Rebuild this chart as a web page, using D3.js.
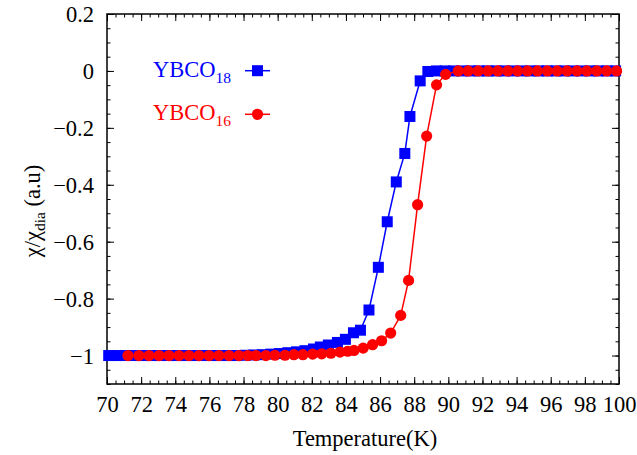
<!DOCTYPE html>
<html>
<head>
<meta charset="utf-8">
<script src="https://cdn.jsdelivr.net/npm/d3@7"></script>
<style>
  body { margin: 0; background: #fff; }
  svg { display: block; }
  text { font-family: "Liberation Serif", "Times New Roman", serif; }
</style>
</head>
<body>
<div id="chart"></div>
<script>
// YBCO18 (blue squares)
var tempBlue = [70.1, 70.6, 71.1, 71.6, 72.1, 72.6, 73.1, 73.6, 74.1, 74.6, 75.1, 75.6, 76.1, 76.6,
  77.1, 77.6, 78.1, 78.6, 79.1, 79.6, 80.1, 80.6, 81.1, 81.6, 82.1, 82.5, 82.97, 83.5, 83.97,
  84.44, 84.85, 85.35, 85.9, 86.42, 86.95, 87.45, 87.75, 88.35, 88.8, 89.3, 89.8, 90.3, 90.8,
  91.3, 91.8, 92.3, 92.8, 93.3, 93.8, 94.3, 94.8, 95.3, 95.8, 96.3, 96.8, 97.3, 97.8, 98.3,
  98.8, 99.3, 99.8];
var chiBlue = [-1.0, -1.0, -1.0, -1.0, -1.0, -1.0, -1.0, -1.0, -1.0, -1.0, -1.0, -1.0, -1.0, -1.0,
  -1.0, -1.0, -0.999, -0.998, -0.997, -0.995, -0.993, -0.99, -0.987, -0.983, -0.977, -0.97, -0.963,
  -0.954, -0.943, -0.92, -0.911, -0.84, -0.69, -0.53, -0.39, -0.29, -0.16, -0.035, -0.002, 0, 0, 0,
  0, 0, 0, 0, 0, 0, 0, 0, 0, 0, 0, 0, 0, 0, 0, 0, 0, 0, 0];

// YBCO16 (red circles)
var tempRed = [71.23, 71.87, 72.46, 73.05, 73.63, 74.22, 74.8, 75.39, 75.98, 76.56, 77.15, 77.73,
  78.25, 78.73, 79.31, 79.84, 80.43, 80.95, 81.48, 82.05, 82.58, 83.12, 83.65, 84.1, 84.47, 85.01, 85.56,
  86.09, 86.62, 87.21, 87.67, 88.2, 88.73, 89.31, 89.84, 90.58, 91.16, 91.74, 92.32, 92.9,
  93.48, 94.06, 94.64, 95.22, 95.8, 96.38, 96.96, 97.54, 98.12, 98.7, 99.28, 99.86];
var chiRed = [-1.0, -1.0, -1.0, -1.0, -1.0, -1.0, -1.0, -1.0, -1.0, -1.0, -1.0, -1.0,
  -1.0, -1.0, -1.0, -0.999, -0.999, -0.997, -0.997, -0.995, -0.994, -0.992, -0.988, -0.985, -0.982, -0.974, -0.962,
  -0.948, -0.921, -0.859, -0.736, -0.47, -0.229, -0.049, -0.012, 0, 0, 0, 0, 0,
  0, 0, 0, 0, 0, 0, 0, 0, 0, 0, 0, 0];

var xTicks = [70, 72, 74, 76, 78, 80, 82, 84, 86, 88, 90, 92, 94, 96, 98, 100];
var yTicks = [0.2, 0, -0.2, -0.4, -0.6, -0.8, -1];

var width = 637, height = 455;
var margin = {top: 14, right: 18, bottom: 71, left: 107};
var fontSize = "22.5px";

var svg = d3.select("#chart").append("svg")
  .attr("width", width)
  .attr("height", height);

var x = d3.scaleLinear().domain([70, 100]).range([margin.left, width - margin.right]);
var y = d3.scaleLinear().domain([-1.1, 0.2]).range([height - margin.bottom, margin.top]);

function fmt(d) {
  var s = d3.format("")(+d.toFixed(1));
  return s.replace("-", "\u2212");
}

// minor ticks
var xMinor = d3.range(70, 100.01, 0.5);
var yMinor = d3.range(-1.1, 0.201, 0.05);

svg.append("g")
  .attr("transform", "translate(0," + y(-1.1) + ")")
  .call(d3.axisBottom(x).tickValues(xMinor).tickSize(-3.5).tickFormat(""));
svg.append("g")
  .attr("transform", "translate(0," + y(0.2) + ")")
  .call(d3.axisTop(x).tickValues(xMinor).tickSize(-3.5).tickFormat(""));
svg.append("g")
  .attr("transform", "translate(" + x(70) + ",0)")
  .call(d3.axisLeft(y).tickValues(yMinor).tickSize(-3.5).tickFormat(""));
svg.append("g")
  .attr("transform", "translate(" + x(100) + ",0)")
  .call(d3.axisRight(y).tickValues(yMinor).tickSize(-3.5).tickFormat(""));

// major ticks
svg.append("g")
  .attr("transform", "translate(0," + y(-1.1) + ")")
  .call(d3.axisBottom(x).tickValues(xTicks).tickSize(-7).tickPadding(12).tickFormat(fmt));
svg.append("g")
  .attr("transform", "translate(0," + y(0.2) + ")")
  .call(d3.axisTop(x).tickValues(xTicks).tickSize(-7).tickFormat(""));
var yAxis = svg.append("g")
  .attr("transform", "translate(" + x(70) + ",0)")
  .call(d3.axisLeft(y).tickValues(yTicks).tickSize(-7).tickPadding(13).tickFormat(fmt));
svg.append("g")
  .attr("transform", "translate(" + x(100) + ",0)")
  .call(d3.axisRight(y).tickValues(yTicks).tickSize(-7).tickFormat(""));

svg.selectAll(".domain").remove();
svg.selectAll(".tick line").attr("stroke", "#000").attr("stroke-width", 1);
svg.selectAll(".tick text")
  .attr("fill", "#000")
  .style("font-size", fontSize)
  .style("font-family", "'Liberation Serif', serif");
yAxis.selectAll(".tick text").attr("dy", "0.35em");

// frame
svg.append("rect")
  .attr("x", x(70)).attr("y", y(0.2))
  .attr("width", x(100) - x(70)).attr("height", y(-1.1) - y(0.2))
  .attr("fill", "none").attr("stroke", "#000").attr("stroke-width", 1.5);

var line = d3.line()
  .x(function(d) { return x(d[0]); })
  .y(function(d) { return y(d[1]); });

var blueData = tempBlue.map(function(t, i) { return [t, chiBlue[i]]; });
var redData = tempRed.map(function(t, i) { return [t, chiRed[i]]; });

var sq = 11, rad = 5.6;

svg.append("path").datum(blueData)
  .attr("d", line).attr("fill", "none").attr("stroke", "#0000ff").attr("stroke-width", 1.5);
svg.selectAll(".sq").data(blueData).enter().append("rect")
  .attr("class", "sq")
  .attr("x", function(d) { return x(d[0]) - sq / 2; })
  .attr("y", function(d) { return y(d[1]) - sq / 2; })
  .attr("width", sq).attr("height", sq)
  .attr("fill", "#0000ff");

svg.append("path").datum(redData)
  .attr("d", line).attr("fill", "none").attr("stroke", "#ff0000").attr("stroke-width", 1.5);
svg.selectAll(".dot").data(redData).enter().append("circle")
  .attr("class", "dot")
  .attr("cx", function(d) { return x(d[0]); })
  .attr("cy", function(d) { return y(d[1]); })
  .attr("r", rad)
  .attr("fill", "#ff0000");

// legend
var legend = [
  {name: "YBCO", sub: "18", color: "#0000ff", shape: "square", y: 70.7},
  {name: "YBCO", sub: "16", color: "#ff0000", shape: "circle", y: 114.3}
];
legend.forEach(function(l) {
  var t = svg.append("text")
    .attr("x", 231).attr("y", l.y + 6)
    .attr("text-anchor", "end")
    .attr("fill", l.color)
    .style("font-size", fontSize);
  t.append("tspan").text(l.name);
  t.append("tspan").attr("dy", 6).style("font-size", "15.5px").text(l.sub);
  svg.append("line")
    .attr("x1", 245).attr("x2", 270).attr("y1", l.y).attr("y2", l.y)
    .attr("stroke", l.color).attr("stroke-width", 1.5);
  if (l.shape === "square") {
    svg.append("rect").attr("x", 257.5 - sq / 2).attr("y", l.y - sq / 2)
      .attr("width", sq).attr("height", sq).attr("fill", l.color);
  } else {
    svg.append("circle").attr("cx", 257.5).attr("cy", l.y).attr("r", rad).attr("fill", l.color);
  }
});

// axis titles
svg.append("text")
  .attr("x", 365).attr("y", 446)
  .attr("text-anchor", "middle")
  .style("font-size", fontSize)
  .text("Temperature(K)");

var yt = svg.append("text")
  .attr("transform", "translate(40,211) rotate(-90)")
  .attr("text-anchor", "middle")
  .style("font-size", fontSize);
yt.append("tspan").text("\u03c7/\u03c7");
yt.append("tspan").attr("dy", 5).style("font-size", "15.5px").text("dia");
yt.append("tspan").attr("dy", -5).text(" (a.u)");
</script>
</body>
</html>
